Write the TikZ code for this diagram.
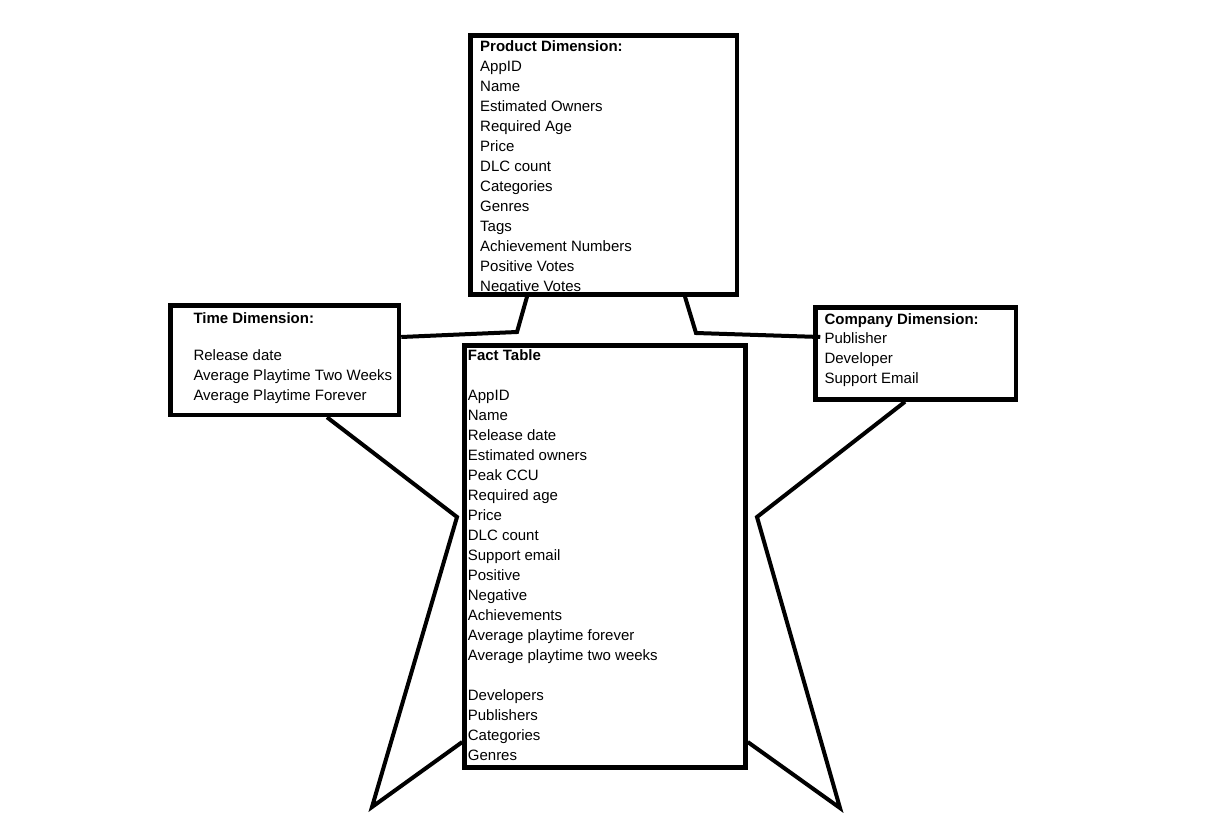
\documentclass[tikz,border=0pt]{standalone}
\usepackage{fontspec}
\setmainfont{Liberation Sans}
\begin{document}
\begin{tikzpicture}[x=1pt, y=-1pt,
  dimbox/.style={draw, line width=4.5pt, inner sep=0pt},
  fields/.style={anchor=north west, inner sep=0pt, align=left,
                 font=\fontsize{15}{20}\selectfont},
  link/.style={line width=4pt, line join=miter}
]
  \useasboundingbox (0,0) rectangle (1216,822);
  % Tables
  \node[dimbox, minimum width=266.5pt, minimum height=259pt]   (prod) at (603.75,165)   {};
  \node[dimbox, minimum width=228.5pt, minimum height=109.5pt] (time) at (284.75,360.25) {};
  \node[dimbox, minimum width=200.5pt, minimum height=92pt]    (comp) at (915.75,353.5)  {};
  \node[dimbox, minimum width=281pt,   minimum height=422pt]   (fact) at (605,556.5)     {};
  % Fields
  \node[fields] (prodtxt) at (480,37.5) {\strut\textbf{Product Dimension:}\\
    AppID\\ Name\\ Estimated Owners\\ Required Age\\ Price\\ DLC count\\
    Categories\\ Genres\\ Tags\\ Achievement Numbers\\ Positive Votes\\ Negative Votes};
  \node[fields] (timetxt) at (193.3,309) {\strut\textbf{Time Dimension:}\\[17pt]
    Release date\\ Average Playtime Two Weeks\\ Average Playtime Forever};
  \node[fields] (comptxt) at (824.3,310) {\strut\textbf{Company Dimension:}\\[-1pt]
    Publisher\\ Developer\\ Support Email};
  \node[fields] (facttxt) at (467.7,346.5) {\strut\textbf{Fact Table}\\[20pt]
    AppID\\ Name\\ Release date\\ Estimated owners\\ Peak CCU\\ Required age\\
    Price\\ DLC count\\ Support email\\ Positive\\ Negative\\ Achievements\\
    Average playtime forever\\ Average playtime two weeks\\[20pt]
    Developers\\ Publishers\\ Categories\\ Genres};
  % Links
  \draw[link] (time.east |- 0,337) -- (517,332) -- (prod.south -| 527,0);
  \draw[link] (prod.south -| 685,0) -- (696,333) -- ([xshift=7pt]comp.west |- 0,337);
  \draw[link] (time.south -| 327,0) -- (457,517) -- (372,807) -- (fact.west |- 0,742);
  \draw[link] (comp.south -| 905,0) -- (757,517) -- (840,808) -- (fact.east |- 0,742);
\end{tikzpicture}
\end{document}
